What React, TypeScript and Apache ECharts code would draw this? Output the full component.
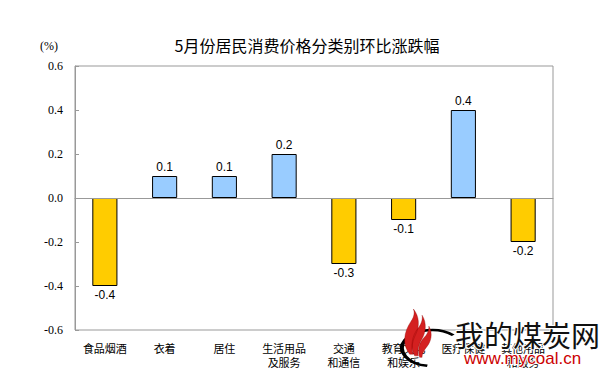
import React, { useEffect, useRef } from "react";
import * as echarts from "echarts";

const titleText = "5月份居民消费价格分类别环比涨跌幅";
const unitText = "(%)";
const categories = [
  "食品烟酒",
  "衣着",
  "居住",
  "生活用品\n及服务",
  "交通\n和通信",
  "教育文化\n和娱乐",
  "医疗保健",
  "其他用品\n和服务",
];
const values = [-0.4, 0.1, 0.1, 0.2, -0.3, -0.1, 0.4, -0.2];
const yMin = -0.6;
const yMax = 0.6;
const yStep = 0.2;

const POS = "#99CCFF";
const NEG = "#FFCC00";

const flameD =
  "M14 58 C2 46 4 30 16 16 C22 9 22 4 20 0 C30 10 30 22 24 32 C18 42 16 50 20 58 Z " +
  "M22 60 C14 48 18 34 28 24 C34 18 35 12 34 8 C42 18 40 30 34 38 C28 46 26 54 28 60 Z " +
  "M30 62 C26 52 30 42 38 36 C44 31 45 26 45 22 C52 32 48 42 42 48 C36 54 34 58 34 62 Z";

export default function App() {
  const ref = useRef<HTMLDivElement>(null);
  useEffect(() => {
    if (!ref.current) return;
    try {
      echarts.graphic.registerShape("flame", (echarts.graphic as any).extendPath(flameD, {}));
    } catch (e) {}
    const chart = echarts.init(ref.current, undefined, { renderer: "svg" });
    const data = values.map((v) => ({
      value: v,
      itemStyle: { color: v >= 0 ? POS : NEG },
      label: { position: v >= 0 ? "top" : "bottom" },
    }));
    chart.setOption({
      animation: false,
      backgroundColor: "#fff",
      title: {
        text: titleText,
        left: 302,
        top: 32,
        textAlign: "center",
        textStyle: {
          fontSize: 16,
          fontWeight: "normal",
          color: "#000",
          fontFamily: "Noto Sans CJK SC",
        },
      },
      grid: {
        left: 75,
        right: 56,
        top: 66,
        bottom: 51,
        show: true,
        borderColor: "#999",
        borderWidth: 1,
        containLabel: false,
      },
      xAxis: {
        type: "category",
        data: categories,
        axisLine: { show: true, lineStyle: { color: "#999" } },
        axisTick: { show: false },
        axisLabel: {
          interval: 0,
          color: "#000",
          fontSize: 11,
          lineHeight: 14,
          margin: 11,
          fontFamily: "Noto Sans CJK SC",
        },
      },
      yAxis: {
        type: "value",
        min: yMin,
        max: yMax,
        interval: yStep,
        axisLine: { show: true, lineStyle: { color: "#999" } },
        axisTick: { show: true, inside: true, length: 4, lineStyle: { color: "#999" } },
        splitLine: { show: false },
        axisLabel: {
          color: "#000",
          fontSize: 12,
          margin: 12,
          fontFamily: "Liberation Serif",
          formatter: (v: number) => v.toFixed(1),
        },
      },
      series: [
        {
          type: "bar",
          data,
          barWidth: "42%",
          itemStyle: { borderColor: "#000", borderWidth: 1 },
          label: {
            show: true,
            color: "#000",
            fontSize: 12,
            distance: 3,
            fontFamily: "Liberation Sans",
            formatter: (p: any) => Number(p.value).toFixed(1),
          },
          markLine: {
            silent: true,
            symbol: "none",
            label: { show: false },
            lineStyle: { color: "#999", type: "solid", width: 1 },
            data: [{ yAxis: 0 }],
          },
        },
      ],
      graphic: [
        {
          type: "text",
          left: 40,
          top: 40,
          style: {
            text: unitText,
            fontSize: 12,
            fontFamily: "Liberation Serif",
            fill: "#000",
          },
        },
        {
          type: "arc",
          z: 100,
          shape: { cx: 432, cy: 348, r: 30, startAngle: Math.PI * 0.55, endAngle: Math.PI * 1.75 },
          scaleY: 0.6,
          originX: 432,
          originY: 348,
          style: { stroke: "#000", lineWidth: 4, fill: "none" },
        },
        {
          type: "flame",
          z: 101,
          x: 401,
          y: 309,
          scaleX: 0.62,
          scaleY: 0.78,
          style: { fill: "#D42020", stroke: "#8B0000", lineWidth: 0.5 },
        },
        {
          type: "text",
          z: 101,
          left: 454,
          top: 318,
          style: {
            text: "我的煤炭网",
            fontSize: 29,
            fontFamily: "Noto Sans CJK SC",
            fill: "#111",
            stroke: "#fff",
            lineWidth: 2,
          },
        },
        {
          type: "text",
          z: 101,
          left: 463,
          top: 349,
          style: {
            text: "www.mycoal.cn",
            fontSize: 17,
            fontFamily: "Liberation Sans",
            fill: "#CC0000",
            stroke: "#fff",
            lineWidth: 2,
          },
        },
      ],
    });
    return () => chart.dispose();
  }, []);
  return (
    <div
      ref={ref}
      style={{ position: "fixed", left: 0, top: 0, width: 609, height: 381 }}
    />
  );
}
